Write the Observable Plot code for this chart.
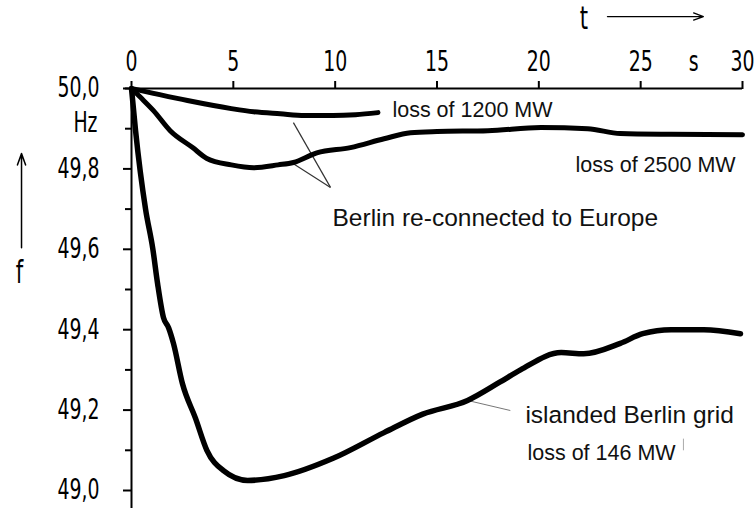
<!DOCTYPE html>
<html><head><meta charset="utf-8">
<script src="https://cdn.jsdelivr.net/npm/d3@7"></script>
<script src="https://cdn.jsdelivr.net/npm/@observablehq/plot@0.6"></script>
<style>body{margin:0;background:#fff}</style>
</head><body><div id="chart"></div>
<script>
// Tick values
const xTicks = [0, 5, 10, 15, 20, 25, 30];
const yMajorTicks = [50.0, 49.8, 49.6, 49.4, 49.2, 49.0];
const yMinorTicks = [49.9, 49.7, 49.5, 49.3, 49.1];

// Loss of 1200 MW (re-connected to Europe)
const t1200 = [0, 1.08, 2.75, 4.9, 6.0, 7.3, 8.5, 9.9, 11.0, 12.1];
const f1200 = [50.0, 49.988, 49.97, 49.95, 49.942, 49.937, 49.933, 49.933, 49.935, 49.94];

// Loss of 2500 MW (re-connected to Europe)
const t2500 = [0, 0.44, 1.08, 1.9, 3.0, 3.7, 4.9, 6.0, 7.2, 7.95, 9.1, 10.75, 12.4, 13.7, 15, 17.5, 20.1, 22.4, 24, 26.5, 30];
const f2500 = [50.0, 49.978, 49.945, 49.895, 49.853, 49.826, 49.81, 49.803, 49.81, 49.816, 49.84, 49.853, 49.875, 49.89, 49.893, 49.895, 49.903, 49.90, 49.888, 49.886, 49.885];

// Loss of 146 MW (islanded Berlin grid)
const t146 = [0, 0.2, 0.69, 1.05, 1.28, 1.57, 1.82, 2.06, 2.5, 3.14, 3.7, 4.5, 5.7, 7.5, 9.9, 12.4, 14.3, 16.5, 18.1, 19.1, 21.1, 22.2, 24, 25.1, 26.5, 28.1, 29.9];
const f146 = [50.0, 49.895, 49.70, 49.60, 49.515, 49.43, 49.405, 49.366, 49.266, 49.18, 49.10, 49.05, 49.025, 49.037, 49.08, 49.144, 49.19, 49.224, 49.27, 49.30, 49.343, 49.34, 49.366, 49.39, 49.40, 49.40, 49.39];

// Annotation texts (data coordinates of left baseline)
const labelText = ["loss of 1200 MW", "loss of 2500 MW", "Berlin re-connected to Europe", "islanded Berlin grid", "loss of 146 MW"];
const labelT = [12.81, 21.8, 9.87, 19.34, 19.44];
const labelF = [49.928, 49.7935, 49.657, 49.169, 49.077];
const labelSize = [21.5, 21.5, 24.5, 24.5, 21.5];

// Pointer lines
const pointers = [
  {x1: 7.95, y1: 49.915, x2: 9.77, y2: 49.754, c: "#333", w: 1.2},
  {x1: 7.95, y1: 49.813, x2: 9.77, y2: 49.754, c: "#333", w: 1.2},
  {x1: 16.5, y1: 49.224, x2: 18.6, y2: 49.199, c: "#777", w: 1},
  {x1: 27.1, y1: 49.129, x2: 27.1, y2: 49.10, c: "#aaa", w: 1}
];

// Axis frame extents
const xAxisStart = -0.3, yAxisEnd = 48.955;

const toRows = (ts, fs) => ts.map((t, i) => ({t, f: fs[i]}));
const d1200 = toRows(t1200, f1200);
const d2500 = toRows(t2500, f2500);
const d146 = toRows(t146, f146);
const labels = labelText.map((s, i) => ({s, t: labelT[i], f: labelF[i], size: labelSize[i]}));

const axisFont = "'DejaVu Sans Condensed',sans-serif";
const textFont = "'Liberation Sans', Arial, Helvetica, sans-serif";

const chart = Plot.plot({
  width: 756, height: 512,
  marginLeft: 131, marginRight: 14, marginTop: 88, marginBottom: 22,
  x: {domain: [0, 30]},
  y: {domain: [49.0, 50.0]},
  style: {background: "#fff", color: "#000", fontFamily: textFont, overflow: "visible"},
  marks: [
    Plot.axisX({anchor: "top", ticks: xTicks, tickSize: 8, tickPadding: 10, strokeWidth: 2,
      fontSize: 25, fontFamily: axisFont, label: null, tickFormat: d => String(d)}),
    Plot.axisY({anchor: "left", ticks: yMajorTicks, tickSize: 8, tickPadding: 24, strokeWidth: 2,
      fontSize: 25, fontFamily: axisFont, label: null, tickFormat: d => d.toFixed(1).replace(".", ",")}),
    Plot.axisY({anchor: "left", ticks: yMinorTicks, tickSize: 6, strokeWidth: 2, label: null, tickFormat: () => ""}),
    Plot.text([{t: 0, f: 49.9}], {x: "t", y: "f", text: () => "Hz", dx: -34, dy: -6, textAnchor: "end",
      fontSize: 25, fontFamily: axisFont}),
    Plot.text([{t: 27.6, f: 50.0}], {x: "t", y: "f", text: () => "s", dy: -18, lineAnchor: "bottom",
      fontSize: 25, fontFamily: axisFont}),
    Plot.ruleY([50], {x1: xAxisStart, x2: 30, strokeWidth: 2}),
    Plot.ruleX([0], {y1: yAxisEnd, y2: 50, strokeWidth: 2}),
    // t arrow
    Plot.text([{t: 22.21, f: 50.147}], {x: "t", y: "f", text: () => "t", lineAnchor: "bottom",
      fontSize: 28, fontFamily: axisFont}),
    Plot.arrow([{x1: 23.37, x2: 28.08, y1: 50.179, y2: 50.179}], {x1: "x1", x2: "x2", y1: "y1", y2: "y2",
      strokeWidth: 1.3, headLength: 12, headAngle: 40}),
    // f arrow
    Plot.text([{t: -5.5, f: 49.515}], {x: "t", y: "f", text: () => "f", lineAnchor: "bottom",
      fontSize: 28, fontFamily: axisFont}),
    Plot.arrow([{x1: -5.4, x2: -5.4, y1: 49.604, y2: 49.838}], {x1: "x1", x2: "x2", y1: "y1", y2: "y2",
      strokeWidth: 1.5, headLength: 12, headAngle: 40}),
    // pointers
    Plot.link(pointers, {x1: "x1", y1: "y1", x2: "x2", y2: "y2", stroke: "c", strokeWidth: "w"}),
    // curves
    Plot.line(d1200, {x: "t", y: "f", curve: "monotone-x", stroke: "#000", strokeWidth: 5,
      strokeLinecap: "round", strokeLinejoin: "round"}),
    Plot.line(d2500, {x: "t", y: "f", curve: "monotone-x", stroke: "#000", strokeWidth: 5,
      strokeLinecap: "round", strokeLinejoin: "round"}),
    Plot.line(d146, {x: "t", y: "f", curve: "monotone-x", stroke: "#000", strokeWidth: 5.5,
      strokeLinecap: "round", strokeLinejoin: "round"}),
    // labels
    Plot.text(labels, {x: "t", y: "f", text: "s", textAnchor: "start", lineAnchor: "bottom",
      fontSize: d => d.size, fill: "#111", fontFamily: textFont})
  ]
});
// narrow, tall look of the original DIN-style axis lettering
chart.querySelectorAll("g[font-family*='DejaVu'] text").forEach(el => {
  const tr = el.getAttribute("transform") || "";
  el.setAttribute("transform", tr + " scale(0.84,1.12)");
});
document.getElementById("chart").appendChild(chart);
</script>
</body></html>
